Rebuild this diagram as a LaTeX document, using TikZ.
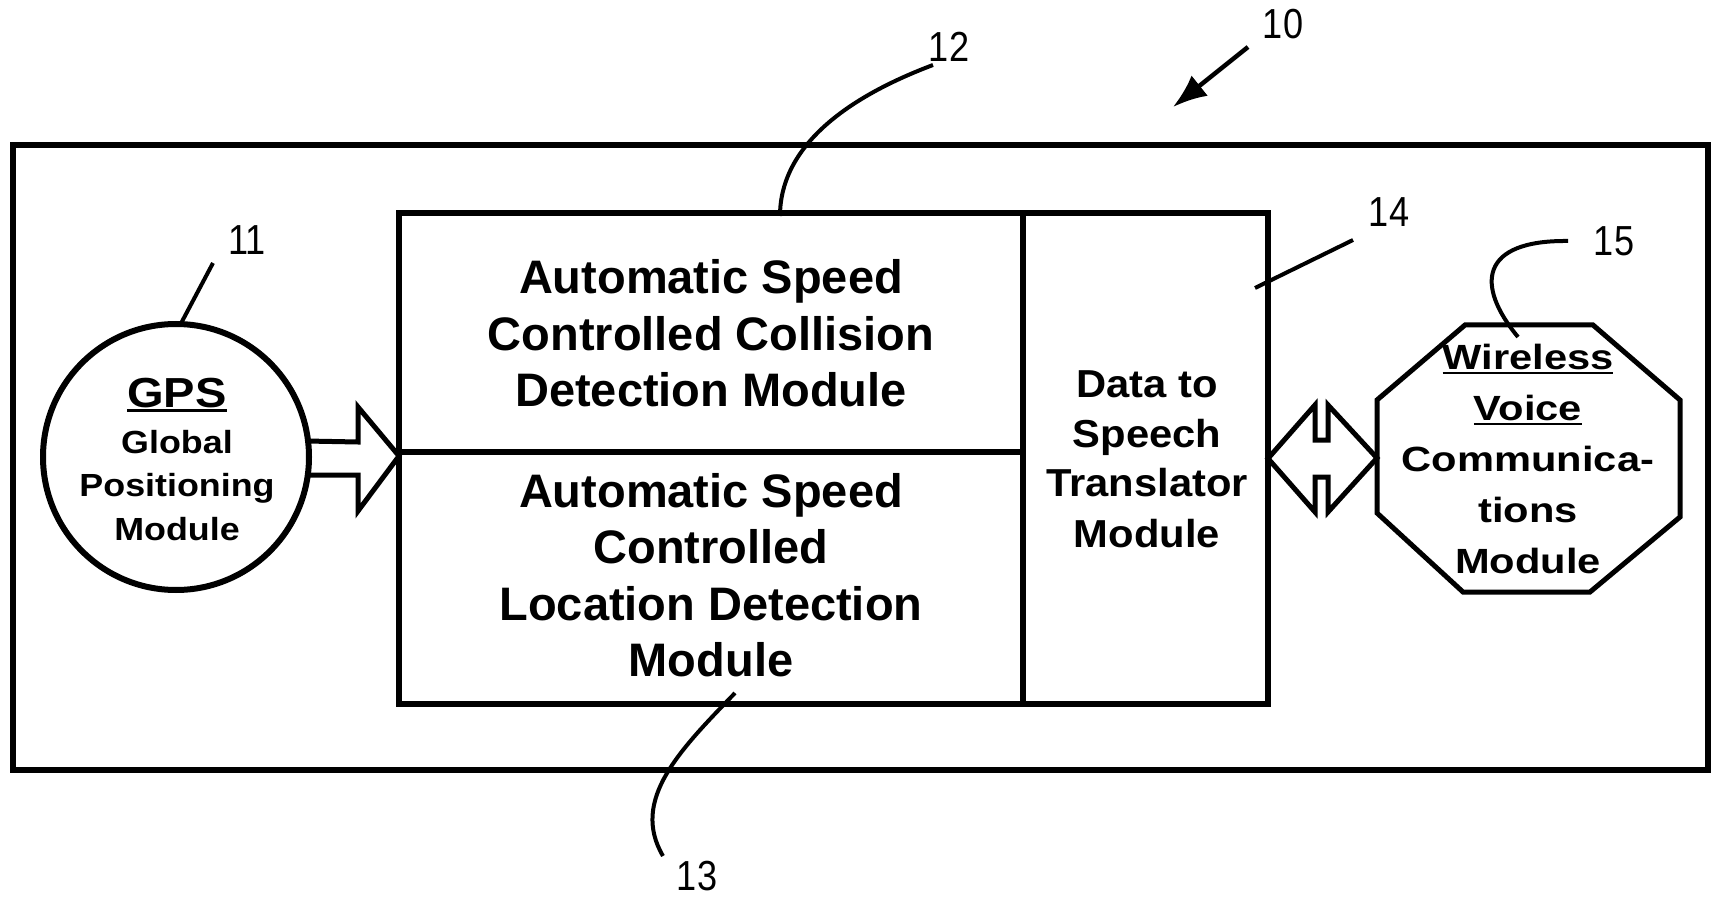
\documentclass[tikz,border=0pt]{standalone}
\usepackage{fontspec}
\setmainfont{Liberation Sans}
\newfontfamily\wideA{Liberation Sans}[FakeStretch=1.19]
\newfontfamily\wideC{Liberation Sans}[FakeStretch=1.07]
\newfontfamily\wideB{Liberation Sans}[FakeStretch=1.12]
\newfontfamily\narrowN{Liberation Sans}[FakeStretch=0.86]
\usetikzlibrary{arrows.meta,calc}
\newcommand\myul[1]{\setbox0\hbox{#1}\rlap{\rule[-4.5pt]{\wd0}{2.6pt}}\box0}
\begin{document}
\begin{tikzpicture}[x=1pt,y=-1pt,
  every node/.style={outer sep=0pt},
  frame/.style={draw, line width=6pt, inner sep=0pt},
  leader/.style={line width=4pt},
  blockarrow/.style={line width=5pt, line join=miter},
  numlabel/.style={font=\narrowN\fontsize{42}{42}\selectfont, inner sep=0pt},
  maintext/.style={font=\bfseries\fontsize{47}{56.5}\selectfont, inner sep=0pt, anchor=base},
  datatext/.style={font=\wideC\bfseries\fontsize{39}{50}\selectfont, inner sep=0pt, anchor=base},
  octtext/.style={font=\wideA\bfseries\fontsize{35}{51}\selectfont, inner sep=0pt, anchor=base},
  gpstitlefont/.style={font=\wideB\bfseries\fontsize{42}{42}\selectfont, inner sep=0pt, anchor=base},
  gpssubfont/.style={font=\wideB\bfseries\fontsize{32}{43.5}\selectfont, inner sep=0pt, anchor=base}]
\useasboundingbox (0,0) rectangle (1714,901);

% outer frame
\node[frame, minimum width=1695pt, minimum height=625pt] (outer) at (860.5,457.5) {};

% inner boxes
\node[frame, minimum width=624pt, minimum height=239pt] (upper) at (711,332.5) {};
\node[frame, minimum width=624pt, minimum height=252pt] (lower) at (711,578) {};
\node[frame, minimum width=245pt, minimum height=491pt] (data) at (1145.5,458.5) {};

% GPS circle
\node[draw, circle, line width=6pt, minimum size=266pt, inner sep=0pt] (gps) at (176,457) {};
\node[gpstitlefont] (gpstitle) at (177,407) {\myul{GPS}};
\node[gpssubfont] (gpstext) at (177,453) {\begin{tabular}[t]{@{}c@{}}Global\\Positioning\\Module\end{tabular}};

% texts
\node[maintext] (uppertext) at (711,294) {\begin{tabular}[t]{@{}c@{}}Automatic Speed\\Controlled Collision\\Detection Module\end{tabular}};
\node[maintext] (lowertext) at (711,507) {\begin{tabular}[t]{@{}c@{}}Automatic Speed\\Controlled\\Location Detection\\Module\end{tabular}};
\node[datatext] (datatxt) at (1147,397) {\begin{tabular}[t]{@{}c@{}}Data to\\Speech\\Translator\\Module\end{tabular}};

% octagon
\coordinate (octW) at (1377,458);
\draw[line width=5pt, line join=miter] (1465,325) -- (1593,325) -- (1680,400) -- (1680,517) -- (1590,592) -- (1463,592) -- (1377,513) -- (1377,400) -- cycle;
\node[octtext] (wvc) at (1528,370) {\begin{tabular}[t]{@{}c@{}}\myul{Wireless}\\\myul{Voice}\\Communica-\\tions\\Module\end{tabular}};

% block arrow GPS -> modules
\coordinate (tipL) at ($(upper.south west)+(0,4)$);
\draw[blockarrow] ($(gps.center)+(130,-16)$) -- (358,442) -- (358,407) -- (tipL) -- (358,511) -- (358,475) -- ($(gps.center)+(130,18)$);

% double block arrow data <-> wireless
\draw[blockarrow] (data.east) -- (1315,405) -- (1315,440) -- (1328,440) -- (1328,405) -- (octW) -- (1328,512) -- (1328,477) -- (1315,477) -- (1315,512) -- cycle;

% reference numerals
\node[numlabel] (n10) at (1283,24) {10};
\node[numlabel] (n11) at (247,240) {11};
\node[numlabel] (n12) at (949,47) {12};
\node[numlabel] (n13) at (697,876) {13};
\node[numlabel] (n14) at (1389,212) {14};
\node[numlabel] (n15) at (1614,241) {15};

% leaders
\coordinate (a10) at (1248,47);
\coordinate (b10) at (1173,107);
\draw[line width=4.5pt, -{Latex[length=34pt,width=26pt]}] (a10) -- (b10);

\coordinate (l11) at (213,263);
\draw[leader] (l11) -- (gps.88);

\coordinate (l12) at (933,65);
\coordinate (e12) at (780,216);
\draw[leader] (l12) .. controls (840,100) and (780,150) .. (e12);

\coordinate (l13) at (663,856);
\coordinate (e13) at (735,693);
\draw[leader] (e13) .. controls (680,750) and (630,800) .. (l13);

\coordinate (l14) at (1353,240);
\coordinate (e14) at (1255,288);
\draw[leader] (l14) -- (e14);

\coordinate (l15) at (1568,241);
\coordinate (e15) at (1518,337);
\draw[leader] (l15) .. controls (1480,240) and (1475,285) .. (e15);
\end{tikzpicture}
\end{document}
